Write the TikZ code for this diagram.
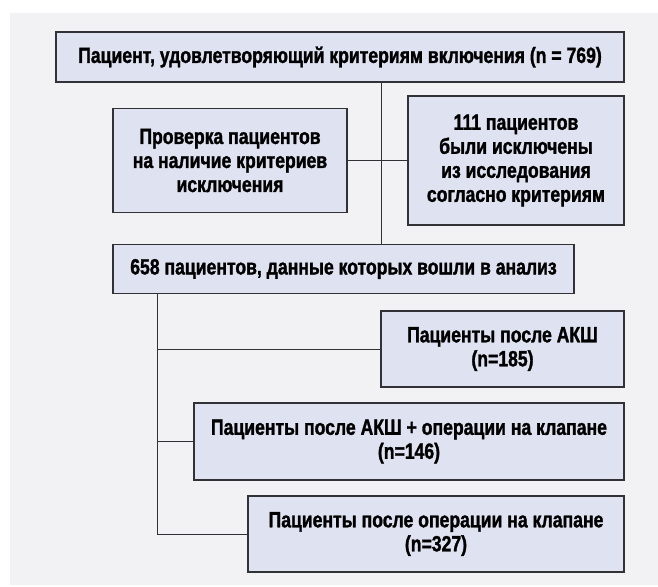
\documentclass[tikz,border=0pt]{standalone}
\usepackage{fontspec}
\setmainfont{Liberation Sans}[FakeStretch=0.8, BoldFeatures={FakeBold=1.4}]
\usepackage{tikz}

\definecolor{panelgray}{RGB}{242,242,245}
\definecolor{boxblue}{RGB}{223,226,241}
\definecolor{rulegray}{RGB}{50,50,54}

\begin{document}
\begin{tikzpicture}[x=1pt, y=-1pt,
    every node/.style={draw=rulegray, line width=1.4pt, fill=boxblue, align=center, inner sep=0pt,
      font=\fontsize{22}{24}\selectfont\bfseries},
    link/.style={draw=rulegray, line width=1pt}]
     \useasboundingbox (0,0) rectangle (658,586);
     \fill[panelgray] (10,13) rectangle (658,585);

     \node[minimum width=568pt, minimum height=50pt] (incl) at (340,57)
        {Пациент, удовлетворяющий критериям включения (n = 769)};
     \node[minimum width=234pt, minimum height=104pt] (check) at (230,160.5)
        {Проверка пациентов\\на наличие критериев\\исключения};
     \node[minimum width=216pt, minimum height=129pt] (excl) at (516,160.5)
        {111 пациентов\\были исключены\\из исследования\\согласно критериям};
     \node[minimum width=461pt, minimum height=49pt] (anal) at (343.5,269)
        {658 пациентов, данные которых вошли в анализ};
     \node[minimum width=243pt, minimum height=76pt] (cabg) at (502.5,349)
        {Пациенты после АКШ\\(n=185)};
     \node[minimum width=430pt, minimum height=77pt] (both) at (409,441.5)
        {Пациенты после АКШ + операции на клапане\\(n=146)};
     \node[minimum width=376pt, minimum height=76pt] (valve) at (436,534)
        {Пациенты после операции на клапане\\(n=327)};

     \coordinate (trunk) at (381,161);
     \coordinate (fork) at (157.5,294);

     \draw[link] (trunk |- incl.south) -- (trunk |- anal.north);
     \draw[link] (check.east) -- (excl.west);
     \draw[link] (fork |- anal.south) |- (valve.west);
     \draw[link] (fork |- cabg.west) -- (cabg.west);
     \draw[link] (fork |- both.west) -- (both.west);
    \end{tikzpicture}
\end{document}
